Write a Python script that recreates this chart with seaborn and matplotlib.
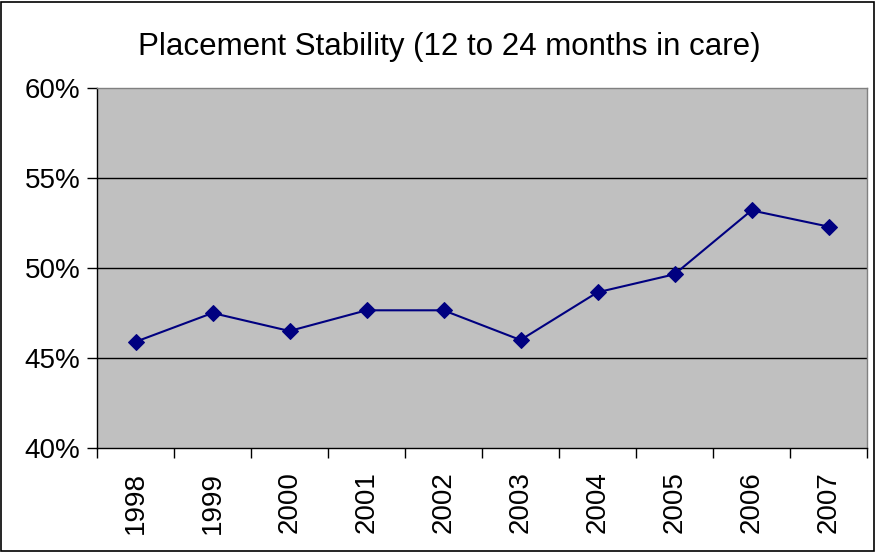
import pandas as pd
import seaborn as sns
import matplotlib.pyplot as plt
from matplotlib.patches import Rectangle
from matplotlib.ticker import FixedLocator, FuncFormatter

YEARS = ["1998", "1999", "2000", "2001", "2002", "2003", "2004", "2005", "2006", "2007"]
STABILITY = [45.9, 47.5, 46.5, 47.65, 47.65, 46.0, 48.65, 49.65, 53.2, 52.3]
Y_TICKS = [40, 45, 50, 55, 60]

data = pd.DataFrame({"year": YEARS, "pct": STABILITY})

sns.set_style("white")
plt.rcParams["font.family"] = ["Liberation Sans", "DejaVu Sans"]
plt.rcParams.update({"text.color": "black", "xtick.color": "black",
                     "ytick.color": "black", "axes.labelcolor": "black"})

fig = plt.figure(figsize=(8.76, 5.52), dpi=100)
ax = fig.add_axes([97 / 876, 1 - 448 / 552, 770 / 876, 360 / 552])
ax.set_facecolor("#C0C0C0")

for y in Y_TICKS[1:-1]:
    ax.axhline(y, color="black", lw=1, zorder=1)

sns.lineplot(data=data, x="year", y="pct", ax=ax, color="#000080", lw=1.5,
             marker="D", markersize=8, markeredgecolor="#000080", zorder=3)

ax.set_xlim(-0.5, len(YEARS) - 0.5)
ax.set_ylim(40, 60)
ax.set_yticks(Y_TICKS)
ax.yaxis.set_major_formatter(FuncFormatter(lambda v, _: f"{v:.0f}%"))
ax.tick_params(axis="y", length=7, width=1, direction="out", labelsize=20,
               left=True, pad=5)

# labels centred on categories, tick marks on the boundaries
ax.set_xticks(range(len(YEARS)))
ax.set_xticklabels(YEARS, rotation=90)
ax.tick_params(axis="x", which="major", length=0, labelsize=20, pad=17)
ax.xaxis.set_minor_locator(FixedLocator([i - 0.5 for i in range(len(YEARS) + 1)]))
ax.tick_params(axis="x", which="minor", length=7, width=1, direction="out", bottom=True)

ax.set_xlabel("")
ax.set_ylabel("")
for side in ["top", "right"]:
    ax.spines[side].set_color("#808080")
for side in ["left", "bottom"]:
    ax.spines[side].set_color("black")
for s in ax.spines.values():
    s.set_linewidth(1)

fig.text(449 / 876, 1 - 55 / 552, "Placement Stability (12 to 24 months in care)",
         ha="center", va="baseline", fontsize=22.5, color="black")

fig.patches.append(Rectangle((0.001, 0.001), 0.997, 0.996, transform=fig.transFigure,
                             fill=False, edgecolor="black", lw=1.2))

plt.savefig("out.png", dpi=100)
